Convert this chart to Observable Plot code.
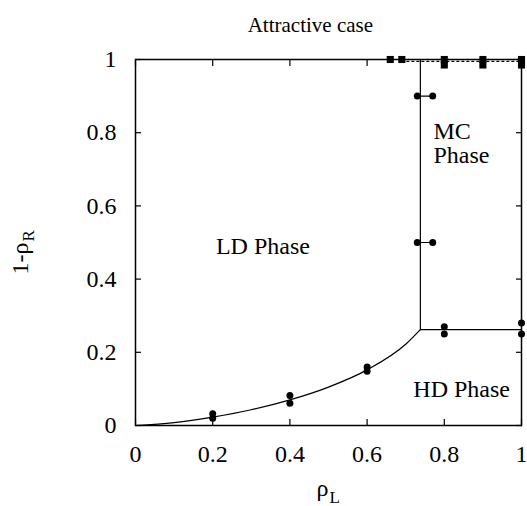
<!DOCTYPE html>
<html><head><meta charset="utf-8">
<script src="https://cdn.jsdelivr.net/npm/d3@7"></script>
<script src="https://cdn.jsdelivr.net/npm/@observablehq/plot@0.6"></script>
<style>html,body{margin:0;padding:0;background:#fff} svg{display:block}</style>
</head><body><div id="chart"></div>
<script>
const xTicks = [0, 0.2, 0.4, 0.6, 0.8, 1];
const yTicks = [0, 0.2, 0.4, 0.6, 0.8, 1];

// LD/HD boundary curve
const curveRhoL = [0, 0.1, 0.2, 0.3, 0.4, 0.5, 0.6, 0.7, 0.738];
const curveY    = [0, 0.008, 0.023, 0.043, 0.07, 0.105, 0.152, 0.222, 0.262];

// LD/MC boundary (vertical) and HD/MC boundary (horizontal)
const mcLineX = [0.738, 0.738];
const mcLineY = [0.262, 1];
const hdLineX = [0.738, 1];
const hdLineY = [0.262, 0.262];

// simulation points (circles)
const circX = [0.2, 0.2, 0.4, 0.4, 0.6, 0.6, 0.8, 0.8, 1, 1, 0.73, 0.77, 0.73, 0.77];
const circY = [0.02, 0.032, 0.061, 0.082, 0.148, 0.16, 0.25, 0.27, 0.25, 0.28, 0.5, 0.5, 0.9, 0.9];
const pairLinesX = [[0.73, 0.77], [0.73, 0.77]];
const pairLinesY = [[0.5, 0.5], [0.9, 0.9]];

// squares at the top
const sqX = [0.66, 0.69, 0.8, 0.8, 0.9, 0.9, 1, 1];
const sqY = [1, 1, 1, 0.985, 1, 0.985, 1, 0.985];

// dotted line
const dotLineX = [0.69, 1];
const dotLineY = [0.995, 0.995];

const centeredLabels = ["LD Phase", "HD Phase"];
const centeredX = [0.33, 0.845];
const centeredY = [0.49, 0.1];
const mcLabel = "MC\nPhase";
const mcX = 0.772;
const mcY = 0.77;

const font = "Liberation Serif, Times New Roman, serif";
const fs = 24;
const fsTitle = 21;

const curve = curveRhoL.map((x, i) => ({x, y: curveY[i]}));
const mcLine = mcLineX.map((x, i) => ({x, y: mcLineY[i]}));
const hdLine = hdLineX.map((x, i) => ({x, y: hdLineY[i]}));
const circles = circX.map((x, i) => ({x, y: circY[i]}));
const pairs = pairLinesX.flatMap((xs, k) => xs.map((x, i) => ({x, y: pairLinesY[k][i], k})));
const squares = sqX.map((x, i) => ({x, y: sqY[i]}));
const dotted = dotLineX.map((x, i) => ({x, y: dotLineY[i]}));
const texts = centeredLabels.map((t, i) => ({t, x: centeredX[i], y: centeredY[i]}));

const chart = Plot.plot({
  width: 527,
  height: 506,
  marginLeft: 135,
  marginRight: 6,
  marginTop: 59,
  marginBottom: 81,
  style: {fontFamily: font, fontSize: fs + "px", background: "#fff", color: "#000"},
  x: {domain: [0, 1]},
  y: {domain: [0, 1]},
  marks: [
    Plot.axisX({ticks: xTicks, tickSize: 6, dy: -6, tickPadding: 19, tickFormat: d => String(d), label: null, fontSize: fs, stroke: "#000", strokeWidth: 1.2}),
    Plot.axisX({anchor: "top", ticks: xTicks, tickSize: 6, dy: 6, tickFormat: () => "", label: null, strokeWidth: 1.2}),
    Plot.axisY({ticks: yTicks, tickSize: 6, dx: 6, tickPadding: 19, tickFormat: d => String(d), label: null, fontSize: fs, strokeWidth: 1.2}),
    Plot.axisY({anchor: "right", ticks: yTicks, tickSize: 6, dx: -6, tickFormat: () => "", label: null, strokeWidth: 1.2}),
    Plot.line(dotted, {x: "x", y: "y", stroke: "#000", strokeWidth: 1.3, strokeDasharray: "2,3"}),
    Plot.line(curve, {x: "x", y: "y", stroke: "#000", strokeWidth: 1.2, curve: "monotone-x"}),
    Plot.line(mcLine, {x: "x", y: "y", stroke: "#000", strokeWidth: 1.2}),
    Plot.line(hdLine, {x: "x", y: "y", stroke: "#000", strokeWidth: 1.2}),
    Plot.line(pairs, {x: "x", y: "y", z: "k", stroke: "#000", strokeWidth: 1.2}),
    Plot.dot(circles, {x: "x", y: "y", r: 3.5, fill: "#000", stroke: null}),
    Plot.dot(squares, {x: "x", y: "y", symbol: "square", r: 4, fill: "#000", stroke: null}),
    Plot.frame({stroke: "#000", strokeWidth: 1.5}),
    Plot.text(texts, {x: "x", y: "y", text: "t", textAnchor: "middle", fontSize: fs, fill: "#000"}),
    Plot.text([mcLabel], {x: mcX, y: mcY, text: d => d, textAnchor: "start", fontSize: fs, fill: "#000", lineHeight: 1.0}),
    Plot.text(["Attractive case"], {x: 0.453, frameAnchor: "top", dy: -42, text: d => d, fontSize: fsTitle, fill: "#000"}),
    // x-axis label ρ_L
    Plot.text(["ρ"], {x: 0.5, frameAnchor: "bottom", dy: 70, text: d => d, textAnchor: "end", lineAnchor: "bottom", fontSize: fs, fill: "#000"}),
    Plot.text(["L"], {x: 0.5, frameAnchor: "bottom", dy: 77, dx: 1, text: d => d, textAnchor: "start", lineAnchor: "bottom", fontSize: 17, fill: "#000"}),
    // y-axis label 1-ρ_R
    Plot.text(["1-ρ"], {y: 0.5, frameAnchor: "left", dx: -108, text: d => d, rotate: -90, textAnchor: "end", lineAnchor: "bottom", fontSize: fs, fill: "#000"}),
    Plot.text(["R"], {y: 0.5, frameAnchor: "left", dx: -102, dy: -1, text: d => d, rotate: -90, textAnchor: "start", lineAnchor: "bottom", fontSize: 17, fill: "#000"})
  ]
});
document.getElementById("chart").appendChild(chart);
</script>
</body></html>
